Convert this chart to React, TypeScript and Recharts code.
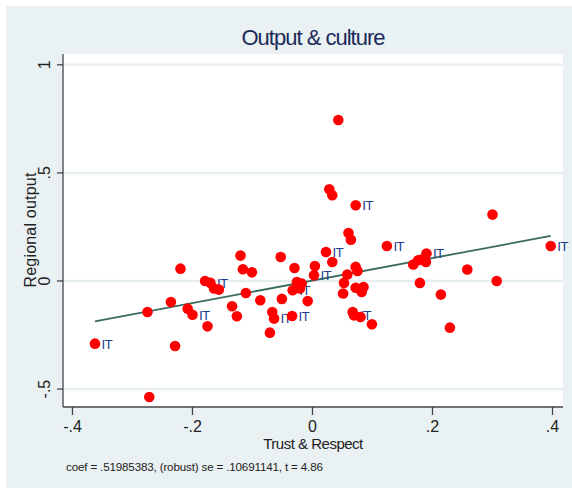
import React from 'react';
import { ScatterChart, Scatter, XAxis, YAxis, CartesianGrid, ReferenceLine } from 'recharts';

const trustX = [
  -0.3625, -0.275, -0.272, -0.229, -0.236, -0.22, -0.208, -0.2, -0.175, -0.179,
  -0.17, -0.164, -0.156, -0.134, -0.126, -0.12, -0.116, -0.111, -0.101, -0.087,
  -0.071, -0.067, -0.064, -0.051, -0.053, -0.034, -0.03, -0.033, -0.026, -0.021,
  -0.018, -0.008, 0.0025, 0.004, 0.0225, 0.033, 0.051, 0.0525, 0.058, 0.06,
  0.064, 0.067, 0.069, 0.072, 0.072, 0.075, 0.08, 0.082, 0.085, 0.099,
  0.124, 0.168, 0.176, 0.179, 0.182, 0.189, 0.19, 0.214, 0.229, 0.258,
  0.307, 0.3, 0.397, 0.043, 0.028, 0.033, 0.072,
];
const outputY = [
  -0.29, -0.1435, -0.537, -0.301, -0.097, 0.057, -0.128, -0.156, -0.21, 0.0,
  -0.009, -0.035, -0.04, -0.117, -0.163, 0.1175, 0.054, -0.0555, 0.04, -0.089,
  -0.239, -0.1435, -0.174, -0.083, 0.111, -0.162, 0.06, -0.043, -0.005, -0.035,
  -0.012, -0.093, 0.026, 0.069, 0.134, 0.088, -0.058, -0.009, 0.03, 0.222,
  0.191, -0.1435, -0.159, 0.065, -0.031, 0.046, -0.167, -0.051, -0.028, -0.2,
  0.162, 0.076, 0.096, -0.009, 0.099, 0.088, 0.127, -0.063, -0.216, 0.053,
  0.0, 0.307, 0.162, 0.745, 0.4245, 0.397, 0.35,
];
const pointLabels = [
  'IT', '', '', '', '', '', '', 'IT', '', '',
  'IT', '', '', '', '', '', '', '', '', '',
  '', '', 'IT', '', '', 'IT', '', 'IT', '', '',
  '', '', 'IT', '', 'IT', '', '', '', '', '',
  '', '', 'IT', '', '', '', '', '', '', '',
  'IT', '', '', '', '', '', 'IT', '', '', '',
  '', '', 'IT', '', '', '', 'IT',
];

const xTicks = [-0.4, -0.2, 0, 0.2, 0.4];
const xTickLabels = ['-.4', '-.2', '0', '.2', '.4'];
const yTicks = [-0.5, 0, 0.5, 1];
const yTickLabels = ['-.5', '0', '.5', '1'];

const fitCoef = 0.51985383;
const fitIntercept = 0.002;

const data = trustX.map((x, i) => ({ x, y: outputY[i], lab: pointLabels[i] }));
const xMin = Math.min(...trustX);
const xMax = Math.max(...trustX);
const fitSegment = [
  { x: xMin, y: fitIntercept + fitCoef * xMin },
  { x: xMax, y: fitIntercept + fitCoef * xMax },
];

const FONT = '"Liberation Sans", Arial, sans-serif';

const PointShape = (props: any) => {
  const { cx, cy, payload } = props;
  return (
    <g>
      <circle cx={cx} cy={cy} r={5.3} fill="#ff0000" />
      {payload.lab ? (
        <text x={cx + 6.5} y={cy} dy="0.36em" fontSize={13.5} fill="#1f3f8f" fontFamily={FONT} letterSpacing={-0.8}>
          {payload.lab}
        </text>
      ) : null}
    </g>
  );
};

const YTick = (props: any) => {
  const { x, y, payload } = props;
  const idx = yTicks.indexOf(payload.value);
  return (
    <text
      x={x}
      y={y}
      dy="0.36em"
      textAnchor="middle"
      fontSize={16}
      fill="#222"
      fontFamily={FONT}
      transform={`rotate(-90 ${x} ${y})`}
    >
      {idx >= 0 ? yTickLabels[idx] : ''}
    </text>
  );
};

const XTick = (props: any) => {
  const { x, y, payload } = props;
  const idx = xTicks.indexOf(payload.value);
  return (
    <text x={x} y={y} dy="0.71em" textAnchor="middle" fontSize={16} fill="#222" fontFamily={FONT}>
      {idx >= 0 ? xTickLabels[idx] : ''}
    </text>
  );
};

export default function App() {
  return (
    <div style={{ position: 'absolute', left: 0, top: 0, width: 572, height: 488, background: '#ffffff' }}>
      <div style={{ position: 'absolute', left: 6, top: 6, width: 566, height: 482, background: '#eaf1f3' }} />
      <div style={{ position: 'absolute', left: 0, top: 0 }}>
        <ScatterChart width={572} height={488} margin={{ top: 54, right: 9, left: 0, bottom: 51 }} style={{ overflow: 'visible' }}>
          <CartesianGrid vertical={false} horizontal fill="#ffffff" stroke="#e6eef1" strokeWidth={2.5} horizontalValues={yTicks} />
          <XAxis
            type="number"
            dataKey="x"
            domain={[-0.4158, 0.4175]}
            ticks={xTicks}
            height={30}
            tickSize={8}
            tickMargin={5.5}
            tick={<XTick />}
            stroke="#444"
            strokeWidth={1.3}
          />
          <YAxis
            type="number"
            dataKey="y"
            domain={[-0.583, 1.05]}
            ticks={yTicks}
            width={63}
            tickSize={6}
            tickMargin={13}
            tick={<YTick />}
            stroke="#444"
            strokeWidth={1.3}
          />
          <ReferenceLine segment={fitSegment} stroke="#3a6b5c" strokeWidth={1.8} ifOverflow="visible" />
          <Scatter data={data} shape={<PointShape />} isAnimationActive={false} />
          <text x={313} y={37} dy="0.36em" textAnchor="middle" fontSize={22} fill="#1c2a5a" fontFamily={FONT} letterSpacing={-1}>
            Output &amp; culture
          </text>
          <text x={313} y={443.5} dy="0.36em" textAnchor="middle" fontSize={15} fill="#222" fontFamily={FONT} letterSpacing={-0.5}>
            Trust &amp; Respect
          </text>
          <text
            x={30}
            y={230}
            dy="0.36em"
            textAnchor="middle"
            fontSize={16}
            fill="#222"
            fontFamily={FONT}
            letterSpacing={0.2}
            transform="rotate(-90 30 230)"
          >
            Regional output
          </text>
          <text x={66} y={467} dy="0.36em" fontSize={11.6} fill="#222" fontFamily={FONT} letterSpacing={-0.15}>
            coef = .51985383, (robust) se = .10691141, t = 4.86
          </text>
        </ScatterChart>
      </div>
    </div>
  );
}
